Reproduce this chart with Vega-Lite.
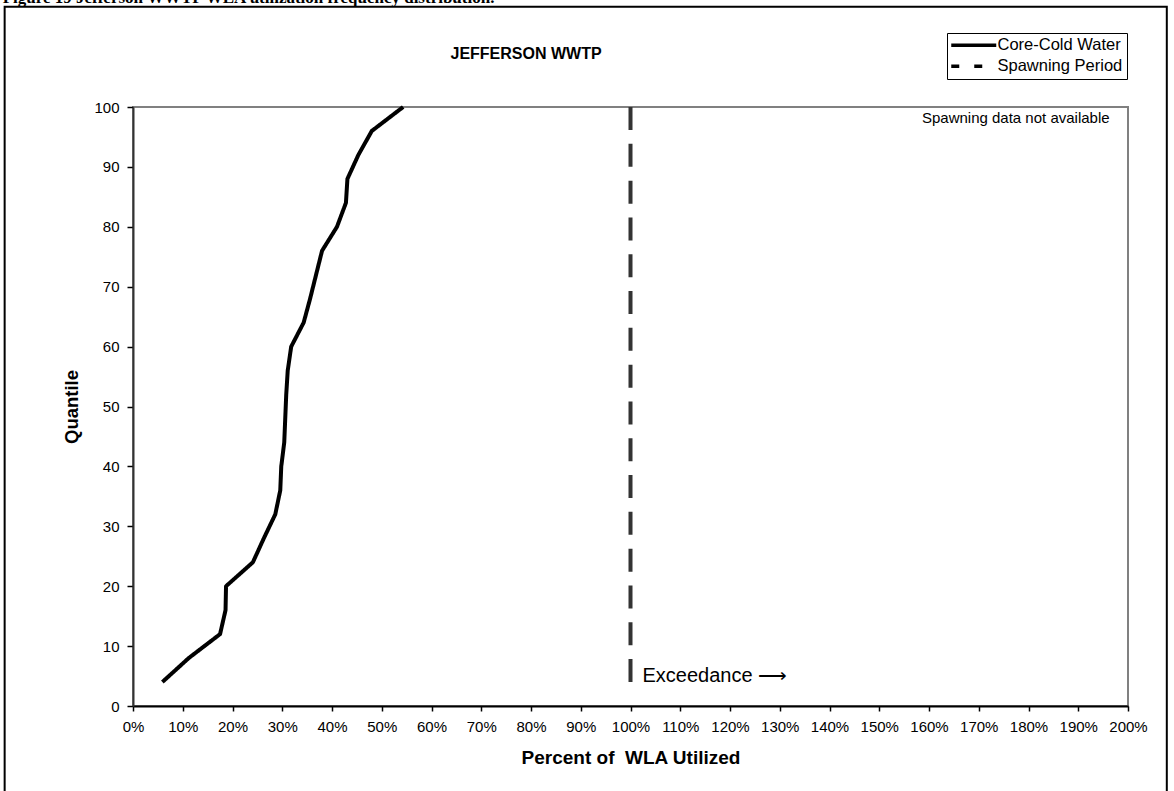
{
  "$schema": "https://vega.github.io/schema/vega-lite/v6.json",
  "width": 995,
  "height": 599,
  "autosize": {"type": "none"},
  "padding": {"left": 133, "top": 107, "right": 46, "bottom": 85},
  "background": "white",
  "config": {
    "font": "Liberation Sans",
    "view": {"stroke": "#808080", "strokeWidth": 2}
  },
  "datasets": {
    "curve": [
      {"series": "Core-Cold Water", "q": 4, "pct": 0.059},
      {"series": "Core-Cold Water", "q": 8, "pct": 0.112},
      {"series": "Core-Cold Water", "q": 12, "pct": 0.175},
      {"series": "Core-Cold Water", "q": 16, "pct": 0.186},
      {"series": "Core-Cold Water", "q": 20, "pct": 0.187},
      {"series": "Core-Cold Water", "q": 24, "pct": 0.241},
      {"series": "Core-Cold Water", "q": 28, "pct": 0.263},
      {"series": "Core-Cold Water", "q": 32, "pct": 0.286},
      {"series": "Core-Cold Water", "q": 36, "pct": 0.296},
      {"series": "Core-Cold Water", "q": 40, "pct": 0.298},
      {"series": "Core-Cold Water", "q": 44, "pct": 0.304},
      {"series": "Core-Cold Water", "q": 48, "pct": 0.306},
      {"series": "Core-Cold Water", "q": 52, "pct": 0.308},
      {"series": "Core-Cold Water", "q": 56, "pct": 0.311},
      {"series": "Core-Cold Water", "q": 60, "pct": 0.318},
      {"series": "Core-Cold Water", "q": 64, "pct": 0.343},
      {"series": "Core-Cold Water", "q": 68, "pct": 0.356},
      {"series": "Core-Cold Water", "q": 72, "pct": 0.368},
      {"series": "Core-Cold Water", "q": 76, "pct": 0.380},
      {"series": "Core-Cold Water", "q": 80, "pct": 0.410},
      {"series": "Core-Cold Water", "q": 84, "pct": 0.428},
      {"series": "Core-Cold Water", "q": 88, "pct": 0.431},
      {"series": "Core-Cold Water", "q": 92, "pct": 0.453},
      {"series": "Core-Cold Water", "q": 96, "pct": 0.480},
      {"series": "Core-Cold Water", "q": 100, "pct": 0.543}
    ],
    "one": [{}]
  },
  "layer": [
    {
      "data": {"name": "one"},
      "mark": {"type": "rect", "filled": false, "stroke": "black", "strokeWidth": 2, "clip": false},
      "encoding": {
        "x": {"datum": -0.258, "type": "quantitative", "scale": {"domain": [0, 2]}},
        "x2": {"datum": 2.078},
        "y": {"datum": 116.74, "type": "quantitative", "scale": {"domain": [0, 100]}},
        "y2": {"datum": -20}
      }
    },
    {
      "data": {"name": "one"},
      "mark": {"type": "text", "text": "Figure 19  Jefferson WWTP WLA utilization frequency distribution.", "font": "Liberation Serif", "fontWeight": "bold", "fontSize": 17, "align": "left", "baseline": "alphabetic", "clip": false, "color": "black"},
      "encoding": {
        "x": {"datum": -0.262, "type": "quantitative"},
        "y": {"datum": 117.4, "type": "quantitative"}
      }
    },
    {
      "data": {"name": "one"},
      "mark": {"type": "text", "text": "JEFFERSON WWTP", "fontWeight": "bold", "fontSize": 16, "align": "center", "baseline": "middle", "clip": false, "color": "black"},
      "encoding": {
        "x": {"datum": 0.79, "type": "quantitative"},
        "y": {"datum": 108.9, "type": "quantitative"}
      }
    },
    {
      "data": {"name": "one"},
      "mark": {"type": "rule", "strokeDash": [23, 13.8], "strokeWidth": 4, "color": "#333333"},
      "encoding": {
        "x": {"datum": 1, "type": "quantitative"},
        "y": {"datum": 4, "type": "quantitative"},
        "y2": {"datum": 100}
      }
    },
    {
      "data": {"name": "curve"},
      "mark": {"type": "line", "color": "black", "strokeWidth": 4, "strokeJoin": "round"},
      "encoding": {
        "x": {
          "field": "pct", "type": "quantitative",
          "scale": {"domain": [0, 2], "zero": false, "nice": false},
          "axis": {
            "title": "Percent of\u00a0 WLA Utilized",
            "format": ".0%",
            "values": [0, 0.1, 0.2, 0.3, 0.4, 0.5, 0.6, 0.7, 0.8, 0.9, 1, 1.1, 1.2, 1.3, 1.4, 1.5, 1.6, 1.7, 1.8, 1.9, 2],
            "grid": false, "labelFontSize": 15, "labelColor": "black", "labelFlush": false, "labelOverlap": false,
            "labelPadding": 8, "tickSize": 5, "tickColor": "black", "tickWidth": 1.5,
            "domainColor": "black", "domainWidth": 2,
            "titleFontSize": 19, "titleFontWeight": "bold", "titleColor": "black", "titlePadding": 14
          }
        },
        "y": {
          "field": "q", "type": "quantitative",
          "scale": {"domain": [0, 100], "nice": false},
          "axis": {
            "title": "Quantile",
            "values": [0, 10, 20, 30, 40, 50, 60, 70, 80, 90, 100],
            "grid": false, "labelFontSize": 15, "labelColor": "black", "labelPadding": 8,
            "tickSize": 6, "tickColor": "black", "tickWidth": 1.5,
            "domainColor": "#333333", "domainWidth": 2,
            "titleFontSize": 18.5, "titleFontWeight": "bold", "titleColor": "black", "titlePadding": 12
          }
        },
        "order": {"field": "q", "type": "quantitative"},
        "strokeDash": {
          "field": "series", "type": "nominal",
          "scale": {"domain": ["Core-Cold Water", "Spawning Period"], "range": [[1, 0], [8, 15]]},
          "legend": {
            "orient": "none", "legendX": 814, "legendY": -74, "title": null,
            "symbolType": "M-4,0H18.5", "symbolSize": 16, "symbolStrokeWidth": 3.5, "symbolStrokeColor": "black",
            "symbolFillColor": "transparent",
            "labelFontSize": 16.5, "labelColor": "black", "labelOffset": 30, "labelLimit": 300,
            "strokeColor": "black", "fillColor": "white", "padding": 4, "rowPadding": 4
          }
        }
      }
    },
    {
      "data": {"name": "one"},
      "mark": {"type": "text", "text": "Spawning data not available", "fontSize": 15, "align": "right", "baseline": "middle", "color": "black"},
      "encoding": {
        "x": {"datum": 1.963, "type": "quantitative"},
        "y": {"datum": 98.2, "type": "quantitative"}
      }
    },
    {
      "data": {"name": "one"},
      "mark": {"type": "text", "text": "Exceedance ⟶", "fontSize": 20, "align": "left", "baseline": "middle", "color": "black"},
      "encoding": {
        "x": {"datum": 1.024, "type": "quantitative"},
        "y": {"datum": 5.0, "type": "quantitative"}
      }
    }
  ]
}
